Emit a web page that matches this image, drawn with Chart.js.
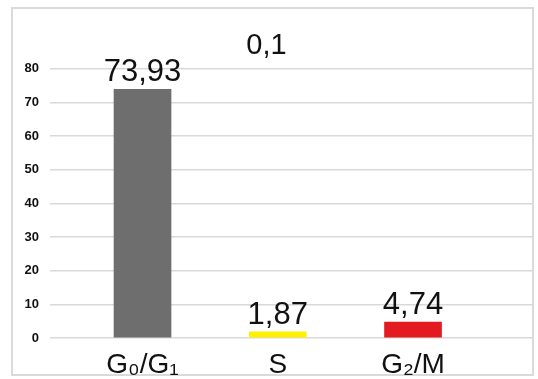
<!DOCTYPE html>
<html>
<head>
<meta charset="utf-8">
<script src="https://cdn.jsdelivr.net/npm/chart.js@4/dist/chart.umd.min.js"></script>
<style>
  html, body { margin: 0; padding: 0; background: #ffffff; }
  #wrap { position: relative; width: 538px; height: 379px; overflow: hidden; }
  #frame { position: absolute; left: 11px; top: 7px; width: 523px; height: 369px; box-sizing: border-box; border: 2px solid #dadada; }
  canvas { position: absolute; left: 0; top: 0; }
</style>
</head>
<body>
<div id="wrap">
  <div id="frame"></div>
  <canvas id="c" width="538" height="379"></canvas>
</div>
<script>
// ---- data ----
const categories = ['G\u2080/G\u2081', 'S', 'G\u2082/M'];
const values = [73.93, 1.87, 4.74];
const valueLabels = ['73,93', '1,87', '4,74'];
const barColors = ['#6e6e6e', '#fff000', '#e31b21'];
const yTicks = [0, 10, 20, 30, 40, 50, 60, 70, 80];
const topNote = '0,1';

const points = values.map((v, i) => ({ x: i, y: v }));

const valueLabelPlugin = {
  id: 'valueLabels',
  afterDatasetsDraw(chart) {
    const ctx = chart.ctx;
    const meta = chart.getDatasetMeta(0);
    ctx.save();
    ctx.font = '31px "Liberation Sans", Arial, sans-serif';
    ctx.fillStyle = '#111111';
    ctx.textAlign = 'center';
    ctx.textBaseline = 'alphabetic';
    meta.data.forEach((bar, i) => {
      ctx.fillText(valueLabels[i], bar.x, bar.y - 8);
    });
    ctx.restore();
  }
};

new Chart(document.getElementById('c'), {
  type: 'bar',
  data: {
    datasets: [{
      data: points,
      backgroundColor: barColors,
      borderWidth: 0,
      barThickness: 57
    }]
  },
  options: {
    responsive: false,
    animation: false,
    devicePixelRatio: 1,
    layout: { padding: { left: 0, right: 5, top: 0, bottom: 0 } },
    plugins: {
      legend: { display: false },
      tooltip: { enabled: false },
      title: {
        display: true,
        text: topNote,
        color: '#111111',
        font: { family: '"Liberation Sans", Arial, sans-serif', size: 29, weight: 'normal', lineHeight: 1.2 },
        padding: { top: 29, bottom: 5 }
      }
    },
    scales: {
      x: {
        type: 'linear',
        offset: false,
        min: -0.684,
        max: 2.887,
        grid: { display: false, drawTicks: false, offset: false },
        border: { display: false },
        afterBuildTicks: (s) => { s.ticks = categories.map((c, i) => ({ value: i })); },
        afterFit: (s) => { s.height = 41; },
        ticks: {
          autoSkip: false,
          maxRotation: 0,
          padding: 10,
          color: '#111111',
          font: { family: '"Liberation Sans", Arial, sans-serif', size: 28 },
          callback: (v) => categories[v]
        }
      },
      y: {
        min: 0,
        max: 80,
        afterBuildTicks: (s) => { s.ticks = yTicks.map(v => ({ value: v })); },
        afterFit: (s) => { s.width = 50; },
        grid: { color: '#d9d9d9', lineWidth: 1.5, drawTicks: false },
        border: { display: false },
        ticks: {
          padding: 11,
          color: '#111111',
          font: { family: '"Liberation Sans", Arial, sans-serif', size: 13, weight: 'bold' }
        }
      }
    }
  },
  plugins: [valueLabelPlugin]
});
</script>
</body>
</html>
